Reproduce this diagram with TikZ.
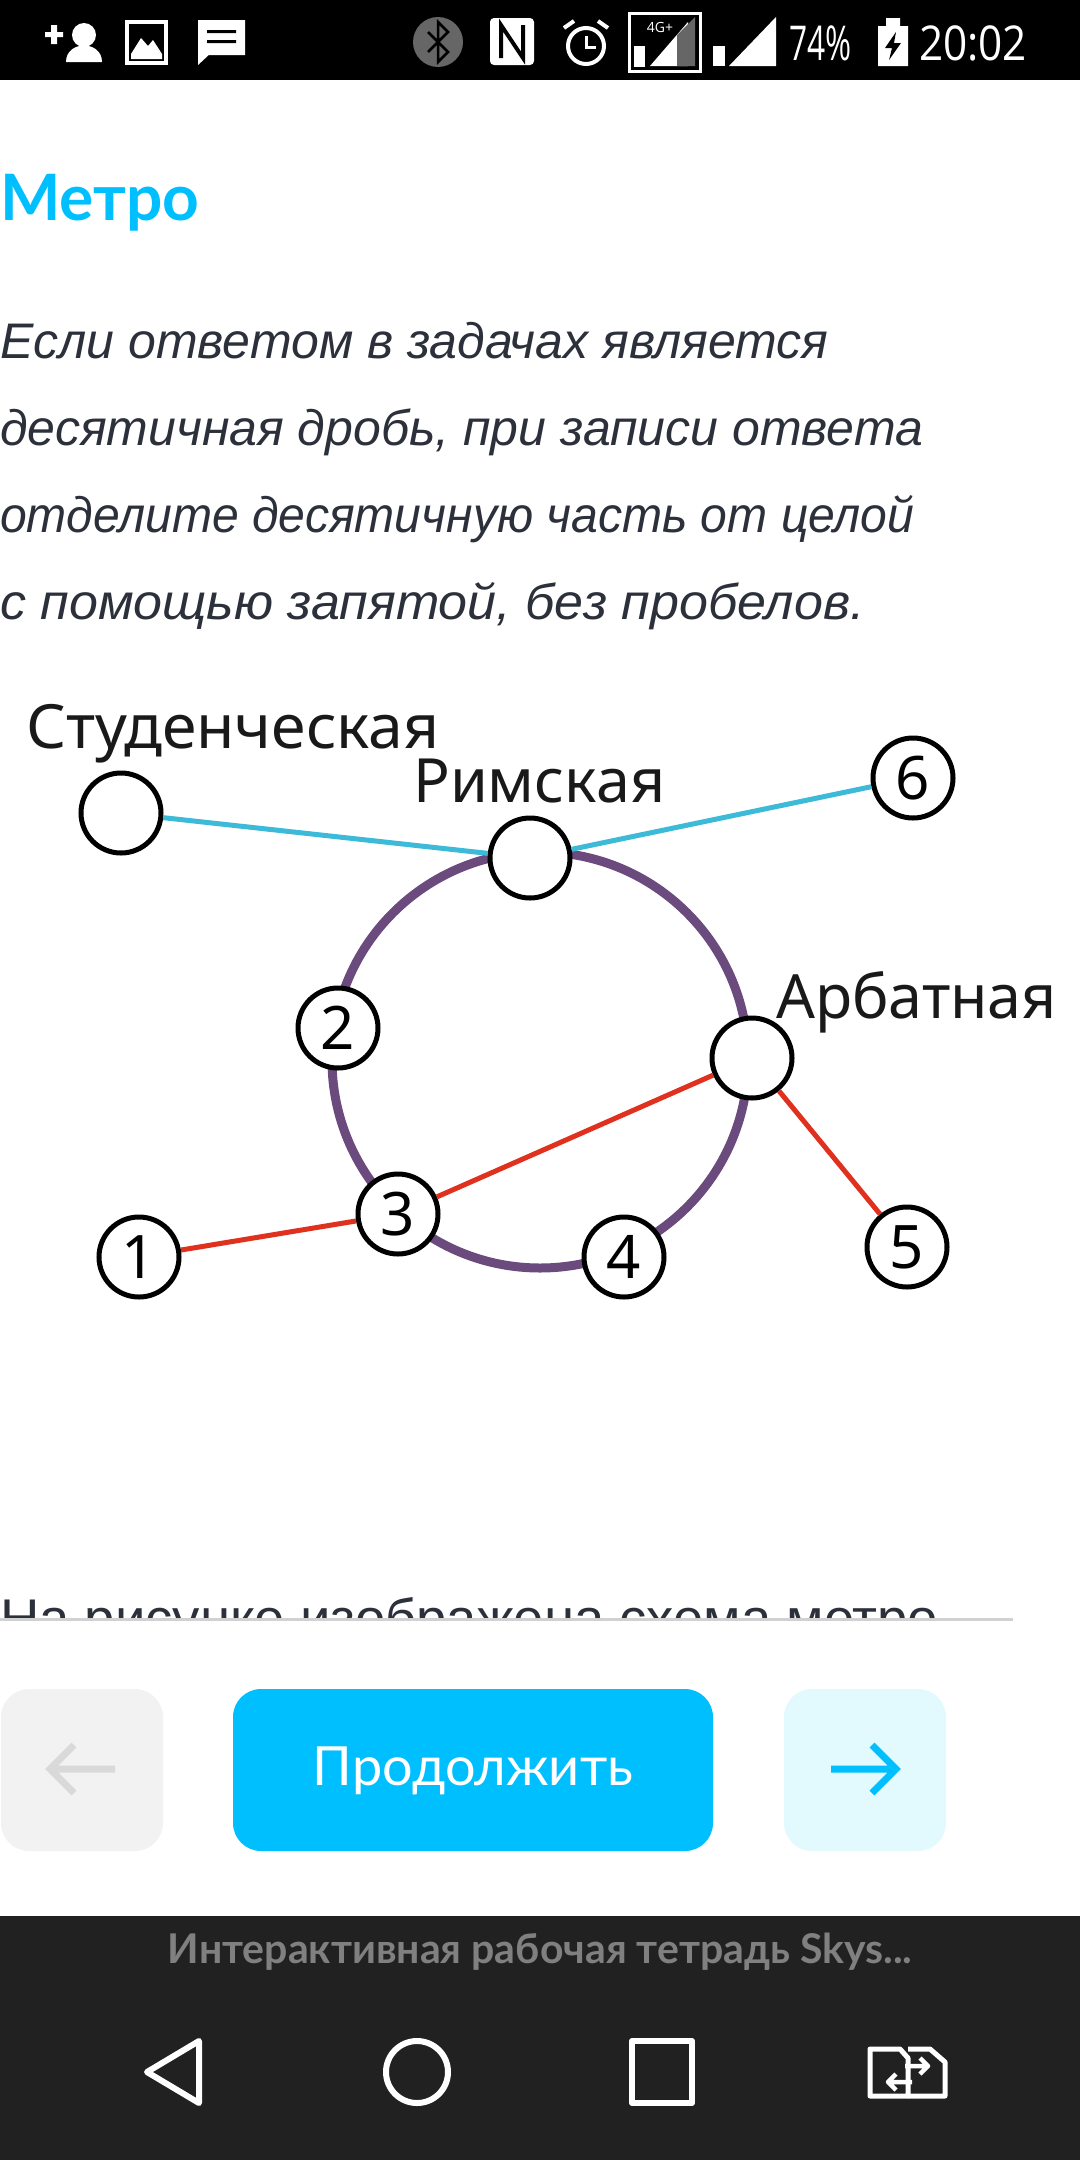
\documentclass[tikz,border=0pt]{standalone}
\usepackage{fontspec}
\setmainfont{Open Sans}
\newfontfamily\bodyfont{Liberation Sans}
\newfontfamily\labelfont{Noto Sans}
\newfontfamily\uifont{Lato}
\definecolor{skyblue}{HTML}{00BFFF}
\definecolor{paleblue}{HTML}{E2F9FD}
\definecolor{bodyink}{HTML}{2B303A}
\definecolor{ringcol}{HTML}{6B4A7E}
\definecolor{cyanline}{HTML}{3DBAD8}
\definecolor{redline}{HTML}{E0301E}
\definecolor{navbar}{HTML}{212121}
\tikzset{
  stn/.style={draw=black, line width=5pt, fill=white, circle, minimum size=80pt, inner sep=0pt, font=\labelfont\fontsize{60}{60}\selectfont},
  stnlabel/.style={anchor=base west, inner sep=0pt, font=\labelfont\fontsize{61}{61}\selectfont, text=black!90},
  para/.style={anchor=base west, inner sep=0pt, text=bodyink, font=\bodyfont\itshape\fontsize{50}{50}\selectfont},
  bartext/.style={anchor=base west, inner sep=0pt, text=white, font=\fontsize{48}{48}\selectfont},
  icon/.style={draw=white, line width=4pt},
  navicon/.style={draw=white, line width=6pt, line join=round},
  btn/.style={rounded corners=28pt}
}
\begin{document}
\begin{tikzpicture}[x=1pt,y=-1pt]
\useasboundingbox (0,0) rectangle (1080,2160);
% status bar
\fill[black] (0,0) rectangle (1080,80);
\fill[white] (45,32) rectangle (63,37) (51,25) rectangle (57,44);
\fill[white] (84,35) circle (12) (66,62) .. controls (66,40) and (102,40) .. (102,62) -- cycle;
\draw[icon] (127,22) rectangle (166,63);
\fill[white] (131,54) -- (141,38) -- (148,46) -- (153,40) -- (162,54) -- (162,59) -- (131,59) -- cycle;
\fill[white] (198,20) rectangle (245,55) (198,50) -- (198,65) -- (212,52) -- cycle;
\fill[black] (207,30) rectangle (236,33) (207,40) rectangle (236,43);
\fill[black!60] (438,42) circle (25);
\draw[black, line width=2.5pt] (428,32) -- (448,52) -- (438,62) -- (438,22) -- (448,32) -- (428,52);
\fill[white, rounded corners=4pt] (490,18) rectangle (534,65);
\draw[black, line width=4pt] (501,58) -- (501,25) -- (523,58) -- (523,25);
\draw[icon] (586,46) circle (18);
\draw[icon, line width=3pt] (586,36) -- (586,47) -- (596,47);
\draw[icon] (564,28) -- (574,21) (598,21) -- (608,28);
\draw[icon, line width=3pt] (629,13) rectangle (700,71);
\fill[white] (650,66) -- (688,22) -- (688,66) -- cycle;
\fill[black!60] (677,35) -- (695,17) -- (695,66) -- (677,66) -- cycle;
\fill[white] (634,46) rectangle (645,67);
\node[inner sep=0pt, text=white, font=\fontsize{14}{14}\selectfont] (lte) at (660,27) {4G+};
\fill[white] (713,46) rectangle (725,66);
\fill[white] (729,66) -- (776,17) -- (776,66) -- cycle;
\node[bartext] (pct) at (789,60) {\scalebox{.66}[1]{74\%}};
\fill[white] (878,26) rectangle (908,66) (886,18) rectangle (900,26);
\fill[black] (896,32) -- (885,48) -- (892,48) -- (889,60) -- (901,43) -- (894,43) -- cycle;
\node[bartext] (clock) at (919,60) {\scalebox{.88}[1]{20:02}};
% text
\node[anchor=base west, inner sep=0pt, text=skyblue, font=\uifont\bfseries\fontsize{64}{64}\selectfont] (title) at (0,220) {Метро};
\node[para] (l1) at (0,358) {Если ответом в задачах является};
\node[para] (l2) at (0,445) {десятичная дробь, при записи ответа};
\node[para] (l3) at (0,532) {\scalebox{.962}[1]{отделите десятичную часть от целой}};
\node[para] (l4) at (0,619) {\scalebox{1.04}[1]{с помощью запятой, без пробелов.}};
% metro
\node[draw=ringcol, line width=9pt, circle, minimum size=416pt, inner sep=0pt] (ring) at (540,1060) {};
\node[stn] (stud) at (121,813) {};
\node[stn] (rim) at (530,858) {};
\node[stn] (six) at (913,778) {6};
\node[stn] (two) at (338,1028) {2};
\node[stn] (arb) at (752,1058) {};
\node[stn] (three) at (398,1214) {3};
\node[stn] (one) at (139,1257) {1};
\node[stn] (four) at (624,1257) {4};
\node[stn] (five) at (907,1247) {5};
\node[stnlabel] (studl) at (26,748) {\scalebox{1.025}[1]{Студенческая}};
\node[stnlabel] (riml) at (413,802) {Римская};
\node[stnlabel] (arbl) at (776,1018) {Арбатная};
\draw[cyanline, line width=5pt] (stud) -- (rim);
\draw[cyanline, line width=5pt] (rim) -- (six);
\draw[redline, line width=5pt] (one) -- (three);
\draw[redline, line width=5pt] (three) -- (arb);
\draw[redline, line width=5pt] (arb) -- (five);
% cut off line
\node[anchor=base west, inner sep=0pt, text=bodyink, font=\bodyfont\fontsize{54.5}{54.5}\selectfont] (cut) at (0,1637) {На рисунке изображена схема метро};
\fill[white] (0,1619) rectangle (1080,1680);
\fill[black!18] (0,1618) rectangle (1013,1621);
% buttons
\fill[black!5, btn] (1,1689) rectangle (163,1851);
\fill[skyblue, btn] (233,1689) rectangle (713,1851);
\fill[paleblue, btn] (784,1689) rectangle (946,1851);
\node[text=white, inner sep=0pt, font=\uifont\fontsize{54}{54}\selectfont] (cont) at (473,1771) {Продолжить};
\draw[black!15, line width=7pt] (115,1769) -- (50,1769) (74,1745) -- (50,1769) -- (74,1793);
\draw[skyblue, line width=7pt] (831,1769) -- (896,1769) (872,1745) -- (896,1769) -- (872,1793);
% nav bar
\fill[navbar] (0,1916) rectangle (1080,2160);
\node[text=black!50, inner sep=0pt, font=\uifont\bfseries\fontsize{41}{41}\selectfont] (app) at (540,1952) {Интерактивная рабочая тетрадь Skys...};
\draw[navicon] (199,2041) -- (147,2072) -- (199,2103) -- cycle;
\draw[navicon] (417,2072) circle (31);
\draw[navicon] (632,2041) rectangle (692,2103);
\draw[navicon, line width=5pt] (870,2049) -- (900,2049) -- (908,2058) -- (908,2096) -- (870,2096) -- cycle;
\draw[navicon, line width=5pt] (908,2049) -- (930,2049) -- (945,2062) -- (945,2096) -- (908,2096);
\draw[navicon, line width=4.5pt] (905,2066) -- (928,2066) (920,2058) -- (928,2066) -- (920,2074);
\draw[navicon, line width=4.5pt] (912,2082) -- (888,2082) (896,2074) -- (888,2082) -- (896,2090);
\end{tikzpicture}
\end{document}
